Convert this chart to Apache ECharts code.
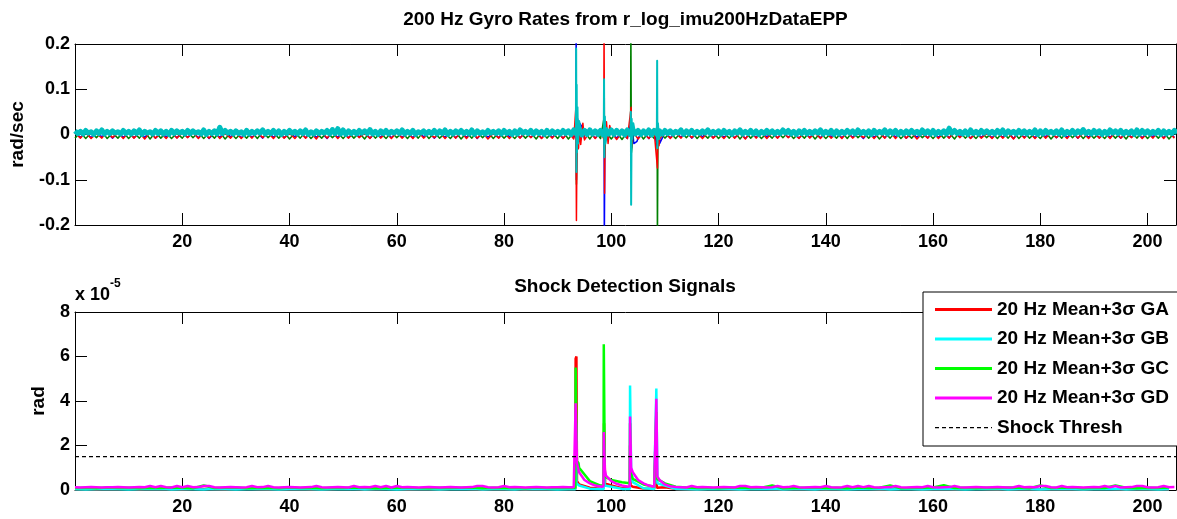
<!DOCTYPE html>
<html><head><meta charset="utf-8">
<script src="https://cdn.jsdelivr.net/npm/echarts@6/dist/echarts.min.js"></script>
<style>html,body{margin:0;padding:0;background:#fff}#c{width:1177px;height:519px}</style>
</head><body><div id="c"></div>
<script>
// ================= DATA =================
// Top panel: 200 Hz gyro rates. Cyan noise band centre-line (mrad/s) as peak / trough per second,
// other axes' noise (mrad/s) per second; shock transients in rad/s as [t, v].
const gyroStart = 0, gyroStep = 1, gyroCount = 206;
const gyroCyanHiMrad = [8,7,9,6,8,10,7,8,6,9, 7,8,10,7,6,9,8,7,9,8, 7,9,8,6,10,7,8,16,9,7, 8,6,9,7,8,10,7,9,8,7,
 9,7,8,10,6,8,7,9,11,13, 10,8,7,9,8,11,7,8,9,7, 8,10,7,9,6,8,7,9,8,10, 7,8,9,7,10,8,6,9,7,8,
 9,7,8,10,7,9,8,7,9,8, 7,9,8,10,11,9,10,8,9,11, 10,9,8,10,11,9,8,10,9,8, 9,8,7,10,8,9,7,8,10,7,
 8,9,7,8,10,7,9,8,7,9, 8,7,10,9,7,8,9,7,8,10, 7,9,8,7,9,8,10,7,8,9, 7,10,8,9,7,8,9,7,10,8,
 9,7,8,14,9,7,8,10,7,9, 8,7,9,10,8,7,9,8,7,10, 8,9,7,8,10,7,9,8,11,7, 9,8,7,10,8,9,7,8,10,9, 8,7,9,8,7,9];
const gyroCyanLoMrad = [2,1,3,0,2,1,2,3,1,2, 1,2,0,3,1,2,1,0,2,3, 1,2,3,1,0,2,1,2,3,1, 2,0,1,2,3,1,2,1,0,2,
 3,1,2,0,1,2,3,1,2,1, 0,2,1,3,2,1,0,2,1,3, 2,1,2,0,3,1,2,1,2,0, 1,3,2,1,0,2,1,3,2,1,
 2,0,1,3,2,1,2,0,1,2, 1,2,0,1,-1,0,1,0,-1,1, 0,1,-1,0,1,0,1,-1,0,1, 2,1,3,0,2,1,2,3,1,2,
 1,2,0,3,1,2,1,0,2,3, 1,2,3,1,0,2,1,2,3,1, 2,0,1,2,3,1,2,1,0,2, 3,1,2,0,1,2,3,1,2,1,
 0,2,1,3,2,1,0,2,1,3, 2,1,2,0,3,1,2,1,2,0, 1,3,2,1,0,2,1,3,2,1, 2,0,1,3,2,1,2,0,1,2, 1,2,0,1,2,3];
const gyroRedMrad = [4,-8,5,-9,3,-8,6,-7,4,-9, 5,-8,4,-10,5,-8,3,-9,6,-8, 4,-7,5,-9,4,-8,6,-9,3,-8, 5,-9,4,-8,6,-7,4,-9,5,-8,
 3,-9,5,-8,4,-10,6,-8,5,-9, 4,-8,5,-7,3,-9,6,-8,4,-9, 5,-8,4,-9,6,-8,3,-7,5,-9, 4,-8,6,-9,5,-8,4,-10,3,-8,
 5,-9,4,-8,6,-7,5,-9,4,-8, 6,-9,5,-10,5,-12,6,-9,7,-10, 6,-11,5,-9,7,-10,5,-9,6,-10, 5,-9,4,-8,6,-7,4,-9,5,-8,
 3,-9,5,-8,4,-10,6,-8,5,-9, 4,-8,5,-7,3,-9,6,-8,4,-9, 5,-8,4,-9,6,-8,3,-7,5,-9, 4,-8,6,-9,5,-8,4,-10,3,-8,
 5,-9,4,-8,6,-7,5,-9,4,-8, 3,-9,5,-8,4,-10,6,-8,5,-9, 4,-8,5,-7,3,-9,6,-8,4,-9, 5,-8,4,-9,6,-8,3,-7,5,-9, 4,-8,6,-9,5,-8];
const gyroGreenMrad = [-8,5,-9,4,-7,6,-9,3,-8,5, -9,4,-8,6,-10,5,-8,4,-9,3, -8,6,-7,5,-9,4,-8,5,-10,4, -9,3,-8,5,-9,6,-7,4,-8,5,
 -10,4,-8,6,-9,3,-8,5,-7,4, -9,5,-8,4,-10,6,-8,3,-9,5, -7,4,-9,5,-8,6,-9,4,-8,3, -9,5,-10,4,-8,6,-7,5,-9,4,
 -8,3,-9,5,-8,4,-10,6,-8,5, -9,6,-10,5,-11,6,-10,7,-9,6, -10,5,-11,6,-9,7,-10,5,-9,6, -8,4,-9,5,-7,6,-9,3,-8,5,
 -9,4,-8,6,-10,5,-8,4,-9,3, -8,6,-7,5,-9,4,-8,5,-10,4, -9,3,-8,5,-9,6,-7,4,-8,5, -10,4,-8,6,-9,3,-8,5,-7,4,
 -9,5,-8,4,-10,6,-8,3,-9,5, -7,4,-9,5,-8,6,-9,4,-8,3, -9,5,-10,4,-8,6,-7,5,-9,4, -8,3,-9,5,-8,4,-10,6,-8,5, -9,4,-8,5,-10,4];
const gyroBlueMrad = [5,-6,4,-7,6,-5,4,-8,5,-6, 4,-7,5,-6,6,-8,4,-5,5,-7, 6,-6,4,-7,5,-9,4,-6,6,-5, 4,-7,5,-6,4,-8,6,-6,5,-7,
 4,-5,6,-7,5,-6,4,-9,5,-6, 6,-7,4,-5,5,-8,4,-6,6,-7, 5,-6,4,-7,6,-5,5,-8,4,-6, 5,-7,4,-6,6,-9,5,-6,4,-7,
 6,-5,5,-7,4,-6,5,-8,6,-6, 5,-8,6,-7,5,-9,6,-8,5,-9, 6,-8,5,-9,6,-7,5,-9,6,-8, 4,-7,5,-6,6,-8,4,-5,5,-7,
 6,-6,4,-7,5,-9,4,-6,6,-5, 4,-7,5,-6,4,-8,6,-6,5,-7, 4,-5,6,-7,5,-6,4,-9,5,-6, 6,-7,4,-5,5,-8,4,-6,6,-7,
 5,-6,4,-7,6,-5,5,-8,4,-6, 5,-7,4,-6,6,-9,5,-6,4,-7, 6,-5,5,-7,4,-6,5,-8,6,-6, 4,-7,5,-6,4,-8,6,-6,5,-7, 4,-5,6,-7,5,-6];
// shock transients (rad/s)
const gyroBlueEvents = [[93.4,0.005],[93.45,0.25],[93.5,-0.1],[93.6,0.04],[93.8,0.03],[94.1,0.025],[94.5,0.018],[95.0,0.012],
 [98.6,0.0],[98.65,0.11],[98.7,-0.25],[98.8,-0.02],[103.7,0.03],[103.75,-0.03],[104.2,-0.02],[104.8,-0.015],[108.6,-0.03],[108.7,0.02],[109.0,-0.02]];
const gyroGreenEvents = [[93.45,0.03],[93.5,-0.11],[93.6,-0.02],[98.7,0.04],[98.75,-0.05],[103.6,0.0],[103.65,0.25],[103.75,-0.04],[104.0,0.01],
 [108.55,0.02],[108.6,-0.25],[108.7,0.0]];
const gyroRedEvents = [[93.4,0.06],[93.5,-0.19],[93.6,-0.035],[93.9,-0.03],[94.3,-0.022],[94.7,0.025],[95.2,-0.015],
 [98.6,-0.01],[98.65,0.25],[98.75,-0.13],[98.85,0.03],[99.1,0.028],[99.4,-0.02],[99.7,0.02],
 [103.7,0.06],[103.75,-0.03],[108.6,-0.074],[108.7,0.01],[108.9,-0.025]];
const gyroCyanEvents = [[93.4,0.01],[93.45,0.19],[93.5,-0.083],[93.55,0.11],[93.6,-0.04],[93.7,0.06],[93.8,-0.02],[94.0,0.03],[94.4,0.005],
 [98.6,0.01],[98.65,0.122],[98.7,-0.05],[98.8,0.04],[98.9,-0.02],[99.2,0.005],
 [103.6,0.01],[103.65,0.05],[103.7,-0.155],[103.8,0.035],[103.9,-0.01],[104.1,0.025],[104.4,0.005],
 [108.5,0.01],[108.55,0.163],[108.6,-0.03],[108.7,0.025],[108.9,-0.01],[109.2,0.005]];

// Bottom panel: shock detection signals (units of 1e-5 rad)
const sdGDTimeStep = 1, sdGDCount = 206;   // magenta sampled each second
const sdOtherTimeStep = 2, sdOtherCount = 103; // others sampled every 2 s
const sdGD = [.12,.11,.12,.13,.12,.11,.12,.12,.13,.12, .11,.12,.13,.12,.18,.12,.18,.12,.11,.18, .12,.18,.12,.13,.18,.18,.12,.11,.12,.13,
 .12,.11,.12,.18,.12,.13,.18,.12,.11,.12, .13,.12,.11,.12,.13,.18,.12,.11,.12,.13, .12,.11,.18,.12,.13,.12,.18,.12,.18,.11,
 .18,.12,.13,.12,.11,.12,.13,.12,.11,.12, .13,.12,.11,.12,.13,.18,.18,.12,.11,.12, .18,.12,.13,.12,.11,.12,.13,.12,.11,.12,
 .12,.13,.12,.12,.8,.45,.3,.2,.16,.65, .4,.28,.2,.16,.8,.45,.3,.2,.15,.45, .25,.17,.13,.12,.11,.18,.12,.13,.12,.11,
 .12,.13,.12,.11,.18,.18,.12,.13,.12,.11, .12,.18,.12,.13,.18,.12,.11,.12,.13,.12, .18,.12,.11,.12,.18,.12,.18,.13,.18,.12,
 .11,.12,.13,.18,.12,.11,.12,.13,.12,.18, .12,.11,.12,.13,.18,.12,.11,.12,.13,.12, .11,.12,.13,.12,.11,.12,.18,.12,.13,.12,
 .18,.18,.12,.11,.18,.12,.13,.12,.11,.12, .13,.12,.18,.12,.18,.11,.12,.13,.18,.18, .12,.11,.12,.18,.12,.13];
const sdGA = [.03,.05,.02,.04,.03,.06,.02,.04,.03,.05, .02,.04,.05,.03,.02,.04,.06,.03,.02,.05, .03,.04,.02,.05,.03,.06,.04,.02,.03,.05,
 .04,.02,.03,.05,.02,.04,.06,.03,.02,.04, .03,.05,.02,.04,.03,.05,.04,.25,.1,.06, .2,.08,.15,.07,.05,.12,.05,.03,.02,.04,
 .05,.03,.02,.04,.06,.03,.02,.05,.03,.04, .02,.05,.03,.06,.04,.02,.03,.05,.04,.02, .03,.05,.02,.04,.06,.03,.02,.04,.03,.05,
 .02,.04,.03,.05,.02,.04,.06,.03,.02,.05, .03,.04,.02];
const sdGB = [.03,.02,.03,.04,.03,.02,.03,.03,.04,.02, .03,.03,.02,.04,.03,.02,.03,.04,.03,.02, .03,.04,.03,.02,.03,.03,.04,.02,.03,.03,
 .02,.03,.04,.03,.02,.03,.03,.04,.02,.03, .03,.02,.04,.03,.03,.02,.03,.2,.06,.04, .15,.05,.35,.08,.04,.2,.05,.03,.02,.03,
 .04,.03,.02,.03,.03,.04,.02,.03,.03,.02, .04,.03,.02,.03,.03,.04,.02,.03,.03,.02, .03,.04,.03,.02,.03,.03,.04,.02,.03,.03,
 .02,.03,.04,.03,.02,.03,.03,.04,.02,.03, .03,.02,.03];
const sdGC = [.09,.1,.08,.11,.09,.1,.08,.1,.09,.11, .1,.08,.2,.09,.1,.11,.08,.09,.1,.08, .11,.09,.1,.08,.1,.09,.11,.1,.08,.09,
 .1,.11,.09,.08,.1,.09,.1,.11,.08,.1, .09,.1,.08,.11,.09,.1,.09,1.0,.4,.2, .45,.35,.5,.25,.15,.3,.15,.11,.09,.1,
 .08,.1,.11,.09,.1,.2,.08,.09,.1,.11, .09,.1,.08,.11,.09,.1,.2,.08,.09,.1, .11,.21,.09,.1,.08,.1,.09,.11,.1,.08,
 .2,.09,.1,.11,.08,.1,.09,.2,.1,.08, .1,.09,.11];
const sdGAEvents = [[93.3,0.05],[93.35,5.9],[93.5,6.0],[93.6,0.4],[98.6,0.1],[98.65,3.0],[98.75,3.0],[98.85,0.3],
 [103.45,0.1],[103.5,2.0],[103.6,0.2],[108.35,0.05],[108.4,2.5],[108.5,0.1]];
const sdGBEvents = [[93.3,0.03],[93.4,3.0],[93.5,0.3],[98.6,0.05],[98.65,2.0],[98.75,0.2],
 [103.45,0.05],[103.5,4.7],[103.6,4.7],[103.7,0.9],[103.9,0.6],[108.35,0.05],[108.4,4.56],[108.5,4.56],[108.6,0.3]];
const sdGCEvents = [[93.3,0.1],[93.35,5.5],[93.5,5.5],[93.6,1.3],[93.9,1.2],[98.55,0.2],[98.6,6.55],[98.7,6.55],[98.8,0.6],
 [103.45,0.3],[103.5,3.0],[103.6,0.8],[108.35,0.15],[108.4,3.5],[108.5,0.5]];
const sdGDEvents = [[93.3,0.12],[93.35,3.9],[93.5,3.9],[93.6,1.2],[93.8,1.0],[98.55,0.16],[98.6,2.6],[98.7,2.6],[98.8,0.9],
 [103.45,0.16],[103.5,3.3],[103.6,3.3],[103.7,1.0],[108.35,0.15],[108.4,4.1],[108.5,4.1],[108.6,0.6]];
const shockThresh = 1.5;
const timeMin = 0, timeMax = 205.3;
const seriesNames = ['20 Hz Mean+3σ GA','20 Hz Mean+3σ GB','20 Hz Mean+3σ GC','20 Hz Mean+3σ GD','Shock Thresh'];

// ================= BUILD =================
const FF = '"Liberation Sans", Arial, sans-serif';
function times(start, step, n){ const a=[]; for(let i=0;i<n;i++) a.push(start+i*step); return a; }
function pairs(ts, vals, scale){ return vals.map((v,i)=>[ts[i], v*scale]); }
function merge(base, ev){ return base.concat(ev).sort((a,b)=>a[0]-b[0]); }
const tG = times(gyroStart, gyroStep, gyroCount);
const tGhalf = times(gyroStart + gyroStep/2, gyroStep, gyroCount);
const cyanBand = merge(pairs(tG, gyroCyanHiMrad, 1e-3), pairs(tGhalf, gyroCyanLoMrad, 1e-3));
const tGD = times(0, sdGDTimeStep, sdGDCount);
const tO = times(0, sdOtherTimeStep, sdOtherCount);

function topLine(color, data, w){ return {type:'line', xAxisIndex:0, yAxisIndex:0, data, symbol:'none', silent:true,
  lineStyle:{color, width:w, join:'round'}, itemStyle:{color}, z:2}; }
function botLine(name, color, data){ return {type:'line', name, xAxisIndex:2, yAxisIndex:2, data, symbol:'none', silent:true,
  lineStyle:{color, width:2.5}, itemStyle:{color}, z:2}; }

const axLine = {show:true, onZero:false, lineStyle:{color:'#000', width:1}};
const axTick = {show:true, inside:true, length:12, lineStyle:{color:'#000', width:1}};
const lblStyle = {fontSize:18, fontWeight:'bold', color:'#000', fontFamily:FF};
function xAx(gi, pos, show){ return {type:'value', gridIndex:gi, position:pos, min:timeMin, max:timeMax, interval:20,
  axisLine:axLine, axisTick:axTick, splitLine:{show:false},
  axisLabel:Object.assign({show:show, margin:8, showMinLabel:false, showMaxLabel:false}, lblStyle)}; }
function yAx(gi, pos, show, min, max, iv, name, gap){ return {type:'value', gridIndex:gi, position:pos, min, max, interval:iv,
  axisLine:axLine, axisTick:axTick, splitLine:{show:false},
  name: name||'', nameLocation:'middle', nameGap:gap||0, nameTextStyle:{fontSize:19, fontWeight:'bold', color:'#000', fontFamily:FF},
  axisLabel:Object.assign({show:show, margin:5}, lblStyle)}; }

// legend line icons (bar for solid lines, segmented bar for the dashed threshold)
const solidIcon = 'path://M0,0h57v3h-57z';
let dashPath = 'path://M0,0h57v0h-57z M0,3h57v0h-57z';
for (let x = 0; x < 57; x += 7) dashPath += ' M' + x + ',1h' + Math.min(4, 57 - x) + 'v1.2h-' + Math.min(4, 57 - x) + 'z';

const chart = echarts.init(document.getElementById('c'), null, {renderer:'canvas'});
chart.setOption({
  animation:false,
  backgroundColor:'#fff',
  grid:[{left:75, right:1, top:44, height:181}, {left:75, right:1, top:312, height:178}],
  xAxis:[xAx(0,'bottom',true), xAx(0,'top',false), xAx(1,'bottom',true), xAx(1,'top',false)],
  yAxis:[yAx(0,'left',true,-0.2,0.2,0.1,'rad/sec',48), yAx(0,'right',false,-0.2,0.2,0.1),
         yAx(1,'left',true,0,8,2,'rad',27), yAx(1,'right',false,0,8,2)],
  legend:{data:seriesNames.map((n,i)=>({name:n, icon: i===4 ? dashPath : solidIcon})),
    orient:'vertical', left:923, top:292, padding:[8,12,9,12], itemWidth:57, itemHeight:3, itemGap:10.5,
    backgroundColor:'#fff', borderColor:'#000', borderWidth:1, borderRadius:0, selectedMode:false, z:10,
    textStyle:{fontSize:19, fontWeight:'bold', color:'#000', fontFamily:FF, lineHeight:19}},
  graphic:[
    {type:'text', x:625.5, y:20, style:{text:'200 Hz Gyro Rates from r_log_imu200HzDataEPP', align:'center', verticalAlign:'middle', font:'bold 19px '+FF, fill:'#000'}},
    {type:'text', x:625, y:287, style:{text:'Shock Detection Signals', align:'center', verticalAlign:'middle', font:'bold 19px '+FF, fill:'#000'}},
    {type:'text', x:75, y:295, style:{text:'x 10', align:'left', verticalAlign:'middle', font:'bold 18px '+FF, fill:'#000'}},
    {type:'text', x:110, y:284, style:{text:'-5', align:'left', verticalAlign:'middle', font:'bold 12px '+FF, fill:'#000'}}
  ],
  series:[
    topLine('#0000ff', merge(pairs(tG, gyroBlueMrad, 1e-3), gyroBlueEvents), 1.5),
    topLine('#008000', merge(pairs(tG, gyroGreenMrad, 1e-3), gyroGreenEvents), 1.5),
    topLine('#ff0000', merge(pairs(tG, gyroRedMrad, 1e-3), gyroRedEvents), 1.5),
    topLine('#00bfbf', cyanBand, 5),
    topLine('#00bfbf', gyroCyanEvents, 2),
    botLine(seriesNames[0], '#ff0000', merge(pairs(tO, sdGA, 1), sdGAEvents)),
    botLine(seriesNames[1], '#00ffff', merge(pairs(tO, sdGB, 1), sdGBEvents)),
    botLine(seriesNames[2], '#00ff00', merge(pairs(tO, sdGC, 1), sdGCEvents)),
    botLine(seriesNames[3], '#ff00ff', merge(pairs(tGD, sdGD, 1), sdGDEvents)),
    {type:'line', name:seriesNames[4], xAxisIndex:2, yAxisIndex:2, symbol:'none', silent:true,
     data:[[timeMin, shockThresh],[timeMax, shockThresh]], lineStyle:{color:'#000', width:1.2, type:[4,3]}, itemStyle:{color:'#000'}, z:3}
  ]
});
</script></body></html>
